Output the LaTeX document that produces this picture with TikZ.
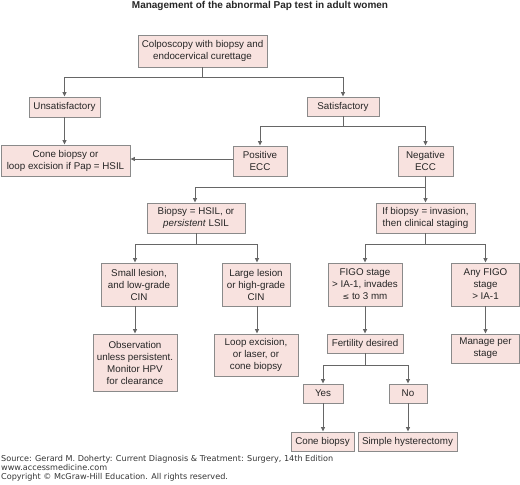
\documentclass[tikz,border=0pt]{standalone}
\usepackage{fontspec}
\setmainfont{Liberation Sans}
\newfontfamily\srcfont{DejaVu Sans}
\usetikzlibrary{arrows.meta}
\definecolor{boxfill}{HTML}{F8E2DF}
\definecolor{boxline}{HTML}{8A8A8A}
\definecolor{conn}{HTML}{666666}
\tikzset{
  box/.style={draw=boxline, fill=boxfill, line width=0.9pt, inner sep=0pt, align=center,
    font=\fontsize{9.8}{12}\selectfont, text=black!85},
  arr/.style={draw=conn, line width=0.9pt, -{Triangle[length=4.5pt,width=4pt]}},
  ln/.style={draw=conn, line width=0.9pt},
}
\newcommand{\bx}[6]{\node[box, minimum width=#4pt, minimum height=#5pt] (#1) at (#2,#3) {#6};}
\begin{document}
\begin{tikzpicture}[x=1pt,y=-1pt]
\useasboundingbox (0,0) rectangle (520,485);
\node[font=\bfseries\fontsize{10}{12}\selectfont, text=black!85, anchor=base] (title) at (260,8.5) {Management of the abnormal Pap test in adult women};

\bx{colp}{202.5}{51}{129}{32}{Colposcopy with biopsy and\\endocervical curettage}
\bx{unsat}{64.5}{107}{71}{20}{Unsatisfactory}
\bx{sat}{343}{106.5}{72}{19}{Satisfactory}
\bx{cone}{65.5}{160.5}{129}{31}{Cone biopsy or\\loop excision if Pap = HSIL}
\bx{pos}{260}{161}{54}{30}{Positive\\ECC}
\bx{neg}{425.5}{161}{55}{30}{Negative\\ECC}
\bx{biop}{196}{218}{98}{30}{Biopsy = HSIL, or\\\textit{persistent} LSIL}
\bx{ifb}{425.5}{218}{99}{30}{If biopsy = invasion,\\then clinical staging}
\bx{small}{139}{284.5}{76}{43}{Small lesion,\\and low-grade\\CIN}
\bx{large}{256}{284.5}{68}{43}{Large lesion\\or high-grade\\CIN}
\bx{figo}{365}{284.5}{74}{43}{FIGO stage\\> IA-1, invades\\{\srcfont\fontsize{8}{10}\selectfont ≤} to 3 mm}
\bx{any}{485.5}{284.5}{68}{43}{Any FIGO\\stage\\> IA-1}
\bx{obs}{135}{362.5}{84}{57}{Observation\\unless persistent.\\Monitor HPV\\for clearance}
\bx{loop}{256}{355}{84}{42}{Loop excision,\\or laser, or\\cone biopsy}
\bx{fert}{365}{343.5}{76}{19}{Fertility desired}
\bx{manage}{485.5}{348.5}{68}{29}{Manage per\\stage}
\bx{yes}{323}{393.5}{40}{19}{Yes}
\bx{no}{408}{393.5}{38}{19}{No}
\bx{coneb}{322.5}{441.5}{63}{19}{Cone biopsy}
\bx{hyst}{407.5}{441.5}{99}{19}{Simple hysterectomy}

\draw[ln] (colp.south) -- ++(0,10) coordinate (j1);
\draw[arr] (j1) -| (unsat.north);
\draw[arr] (j1) -| (sat.north);
\draw[arr] (unsat.south) -- (unsat.south |- cone.north);
\draw[ln] (sat.south) -- ++(0,10) coordinate (j2);
\draw[arr] (j2) -| (pos.north);
\draw[arr] (j2) -| (neg.north);
\draw[arr] ([yshift=2pt]pos.west) -- ([yshift=2pt]pos.west -| cone.east);
\draw[ln] (neg.south) -- ++(0,11) coordinate (j3);
\draw[arr] (j3) -| ([xshift=-1pt]biop.north);
\draw[arr] (j3) -| (ifb.north);
\draw[ln] (biop.south) -- ++(0,11) coordinate (j4);
\draw[arr] (j4) -| (obs.north |- small.north);
\draw[arr] (j4) -| ([xshift=1pt]large.north);
\draw[ln] (ifb.south) -- ++(0,11) coordinate (j5);
\draw[arr] (j5) -| (figo.north);
\draw[arr] (j5) -| (any.north);
\draw[arr] (obs.north |- small.south) -- (obs.north);
\draw[arr] ([xshift=1pt]large.south) -- ([xshift=1pt]large.south |- loop.north);
\draw[arr] (figo.south) -- (fert.north);
\draw[arr] (any.south) -- (manage.north);
\draw[ln] (fert.south) -- ++(0,12) coordinate (j6);
\draw[arr] (j6) -| (yes.north);
\draw[arr] (j6) -| (no.north);
\draw[arr] (yes.south) -- (yes.south |- coneb.north);
\draw[arr] (no.south) -- (no.south |- hyst.north);

\node[anchor=north west, align=left, inner sep=0pt, font=\srcfont\fontsize{8.1}{9}\selectfont, text=black!80] (src) at (1,455)
 {Source: Gerard M. Doherty: Current Diagnosis \& Treatment: Surgery, 14th Edition\\www.accessmedicine.com\\Copyright © McGraw-Hill Education. All rights reserved.};
\end{tikzpicture}
\end{document}
